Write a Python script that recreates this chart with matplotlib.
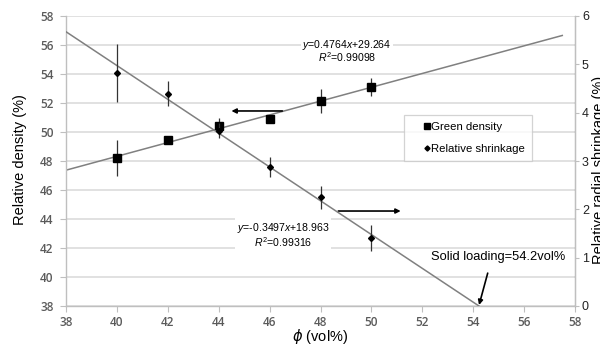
import matplotlib
matplotlib.use("Agg")
import matplotlib.pyplot as plt
import numpy as np
from matplotlib.lines import Line2D

plt.rcParams["font.family"] = ["Liberation Sans", "DejaVu Sans"]
plt.rcParams["mathtext.fontset"] = "custom"
plt.rcParams["mathtext.rm"] = "Liberation Sans"
plt.rcParams["mathtext.it"] = "Liberation Sans:italic"

# Solid loading (vol%)
phi = [40, 42, 44, 46, 48, 50]

# Green density (relative density, %) with standard deviation
density = [48.23, 49.45, 50.42, 50.93, 52.14, 53.1]
density_err = [1.25, 0.2, 0.55, 0.2, 0.85, 0.62]

# Relative radial shrinkage (%) with standard deviation
shrinkage = [4.815, 4.39, 3.63, 2.87, 2.25, 1.41]
shrinkage_err = [0.6, 0.26, 0.15, 0.21, 0.24, 0.27]

# Linear fits
dens_slope, dens_icpt, dens_r2 = 0.4764, 29.264, 0.99098
shr_slope, shr_icpt, shr_r2 = -0.3497, 18.963, 0.99316
dens_fit_end = 57.5
solid_loading = 54.2

x_ticks = [38, 40, 42, 44, 46, 48, 50, 52, 54, 56, 58]
left_ticks = [38, 40, 42, 44, 46, 48, 50, 52, 54, 56, 58]
right_ticks = [0, 1, 2, 3, 4, 5, 6]

W, H = 600, 349
fig = plt.figure(figsize=(W / 100, H / 100), dpi=100)
ax = fig.add_axes([66 / W, 1 - 306 / H, (575 - 66) / W, (306 - 16) / H])
ax2 = ax.twinx()

tick_gray = "#5a5a5a"
grid_gray = "#d9d9d9"
spine_gray = "#bfbfbf"
fit_gray = "#808080"

ax.set_xlim(38, 58)
ax.set_ylim(38, 58)
ax2.set_ylim(0, 6)
ax.set_xticks(x_ticks)
ax.set_yticks(left_ticks)
ax2.set_yticks(right_ticks)

ax.grid(axis="y", color=grid_gray, lw=1.1, zorder=0)
ax.set_axisbelow(True)
ax.spines["top"].set_visible(False)
ax2.spines["top"].set_visible(False)
for side in ["left", "bottom"]:
    ax.spines[side].set_color(spine_gray)
    ax.spines[side].set_linewidth(1.0)
ax2.spines["right"].set_color(spine_gray)
ax2.spines["left"].set_visible(False)
ax2.spines["bottom"].set_visible(False)

ax.tick_params(axis="both", direction="out", length=4, width=0.8, color=spine_gray,
               labelcolor=tick_gray, labelsize=8.5)
ax.tick_params(axis="x", pad=3)
ax.tick_params(axis="y", pad=5)
for lab in ax.get_xticklabels() + ax.get_yticklabels():
    lab.set_family("Open Sans")
    lab.set_weight("semibold")
ax2.tick_params(axis="y", direction="out", length=3, width=0.8, color=spine_gray,
                labelcolor="#222222", labelsize=9, pad=2)

# Fit lines
xd = np.array([38, dens_fit_end])
ax.plot(xd, dens_slope * xd + dens_icpt, color=fit_gray, lw=1.1, zorder=2)
x_zero = -shr_icpt / shr_slope
xs = np.array([38, x_zero])
ax2.plot(xs, shr_slope * xs + shr_icpt, color=fit_gray, lw=1.1, zorder=2)

# Data with error bars
ax.errorbar(phi, density, yerr=density_err, fmt="s", color="black", ms=5.2,
            elinewidth=0.9, capsize=0, ecolor="#333333", zorder=4)
ax2.errorbar(phi, shrinkage, yerr=shrinkage_err, fmt="D", color="black", ms=3.0,
             elinewidth=0.9, capsize=0, ecolor="#333333", zorder=4)

# Direction arrows pointing to each axis
arrow = dict(arrowstyle="-|>", color="black", lw=1.2, mutation_scale=7,
             shrinkA=0, shrinkB=0)
ax.annotate("", xy=(44.5, 51.45), xytext=(46.5, 51.45), arrowprops=arrow, zorder=5)
ax.annotate("", xy=(51.15, 44.55), xytext=(48.7, 44.55), arrowprops=arrow, zorder=5)

# Solid loading annotation
ax2.annotate("", xy=(solid_loading + 0.03, 0.02), xytext=(54.57, 0.68),
             arrowprops=arrow, annotation_clip=False, zorder=5)
ax2.text(54.99, 1.01, "Solid loading=%.1fvol%%" % solid_loading, fontsize=9.3,
         ha="center", va="center", color="black")

# Fit equations
box = dict(facecolor="white", edgecolor="none", pad=1.0)
eq_dens = (r"$y$=%.4f$x$+%.3f" % (dens_slope, dens_icpt) + "\n"
           + r"$R^{\mathrm{2}}$=%.5f" % dens_r2)
eq_shr = (r"$y$=%.4f$x$+%.3f" % (shr_slope, shr_icpt) + "\n"
          + r"$R^{\mathrm{2}}$=%.5f" % shr_r2)
ax.text(49.04, 55.6, eq_dens, fontsize=7.6, ha="center", va="center",
        multialignment="center", linespacing=0.8, bbox=box, zorder=3)
ax.text(46.53, 42.9, eq_shr, fontsize=7.6, ha="center", va="center",
        multialignment="center", linespacing=1.0, bbox=box, zorder=3)

# Legend
handles = [
    Line2D([], [], ls="none", marker="s", color="black", ms=4),
    Line2D([], [], ls="none", marker="D", color="black", ms=2.6),
]
leg = fig.legend(handles, ["Green density", "Relative shrinkage"],
                 loc="upper left", bbox_to_anchor=(404 / W, 1 - 115 / H),
                 fontsize=8.2, frameon=True, fancybox=False, borderpad=0.6,
                 handlelength=2.9, handletextpad=-1.1, labelspacing=1.05,
                 borderaxespad=0)
leg.get_frame().set_edgecolor("#c8c8c8")
leg.get_frame().set_linewidth(0.9)

# Axis titles
fig.text(20 / W, 1 - 160 / H, "Relative density (%)", rotation=90,
         ha="center", va="center", fontsize=10.5)
fig.text(320 / W, 1 - 337 / H, r"$\phi$ (vol%)", ha="center", va="center",
         fontsize=10.5, math_fontfamily="dejavusans")
fig.text(592 / W, 1 - 170 / H, "Relative radial shrinkage (%)", rotation=90,
         ha="left", va="center", fontsize=10.5)

fig.savefig("out.png", dpi=100)
